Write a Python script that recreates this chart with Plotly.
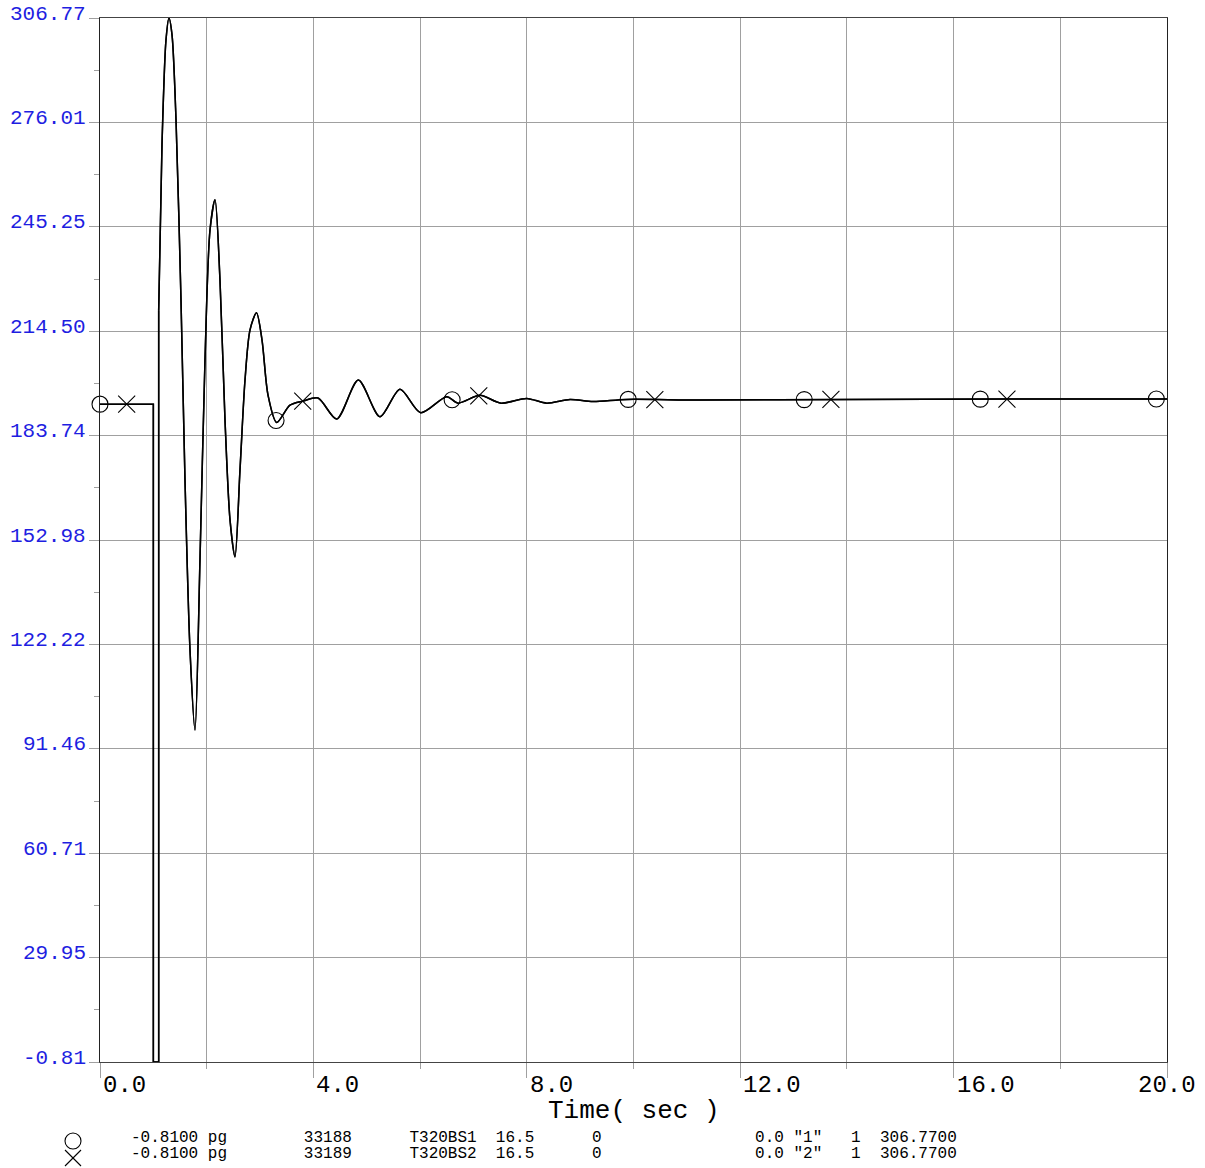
import numpy as np
import plotly.graph_objects as go

# ---------------- data ----------------
time_s = [0.0, 1.0, 1.0, 1.1, 1.1, 1.162, 1.237, 1.293, 1.35, 1.425, 1.518, 1.593,
          1.687, 1.781, 1.874, 1.968, 2.062, 2.156, 2.249, 2.343, 2.437, 2.530,
          2.624, 2.718, 2.812, 2.933, 3.037, 3.149, 3.312, 3.561, 3.805, 4.086,
          4.437, 4.842, 5.248, 5.623, 6.011, 6.499, 6.710, 7.123, 7.516, 7.998,
          8.373, 8.810, 9.241, 9.873, 11.25, 14.0, 17.0, 20.0]
pg_33188 = [193.0, 193.0, -0.81, -0.81, 220.7, 269.4, 300.3, 306.77, 301.8, 276.7,
            223.7, 170.7, 120.6, 97.0, 147.1, 206.0, 244.3, 253.2, 229.6, 188.3,
            158.9, 148.0, 173.6, 200.1, 214.9, 219.9, 211.9, 195.7, 187.6, 192.7,
            193.9, 194.8, 188.6, 200.1, 189.3, 197.4, 190.5, 195.2, 193.3, 195.6,
            193.3, 194.7, 193.3, 194.4, 193.8, 194.4, 194.2, 194.4, 194.5, 194.5]
pg_33189 = list(pg_33188)  # second generator overlays the first

circle_times = [0.0, 3.3, 6.6, 9.9, 13.2, 16.5, 19.8]
cross_times = [0.5, 3.8, 7.1, 10.4, 13.7, 17.0]

y_tick_labels = ["-0.81", "29.95", "60.71", "91.46", "122.22", "152.98",
                 "183.74", "214.50", "245.25", "276.01", "306.77"]
x_tick_labels = ["0.0", "4.0", "8.0", "12.0", "16.0", "20.0"]

legend_rows = [
    ["-0.8100 pg", "33188", "T320BS1", "16.5", "0", '0.0 "1"', "1", "306.7700"],
    ["-0.8100 pg", "33189", "T320BS2", "16.5", "0", '0.0 "2"', "1", "306.7700"],
]
legend_cols = [0, 18, 29, 38, 48, 65, 75, 78]

# ---------------- figure ----------------
W, H = 1205, 1168
ML, MT = 100, 18
PW, PH = 1067, 1044
MR = W - ML - PW
MB = H - MT - PH

def px2paper(x, y):
    return (x - ML) / PW, (H - MB - y) / PH

MONO = "Liberation Mono, Courier New, monospace"
BLUE = "rgb(30,30,225)"
GRID = "#a0a0a0"

y_vals = [float(s) for s in y_tick_labels]
x_vals = [float(s) for s in x_tick_labels]
ymin, ymax = y_vals[0], y_vals[-1]

fig = go.Figure()

split = 5  # end of the piecewise fault section
for series in (pg_33188, pg_33189):
    fig.add_trace(go.Scatter(x=time_s[:split], y=series[:split], mode="lines",
                             line=dict(color="black", width=1.5),
                             showlegend=False, hoverinfo="skip"))
    fig.add_trace(go.Scatter(x=time_s[split - 1:], y=series[split - 1:], mode="lines",
                             line=dict(color="black", width=1.5, shape="spline",
                                       smoothing=0.8),
                             showlegend=False, hoverinfo="skip"))

fig.add_trace(go.Scatter(x=circle_times, y=np.interp(circle_times, time_s, pg_33188),
                         mode="markers",
                         marker=dict(symbol="circle-open", size=16, color="black",
                                     line=dict(width=1.1, color="black")),
                         showlegend=False, cliponaxis=False, hoverinfo="skip"))
fig.add_trace(go.Scatter(x=cross_times, y=np.interp(cross_times, time_s, pg_33189),
                         mode="markers",
                         marker=dict(symbol="x-thin-open", size=17, color="black",
                                     line=dict(width=1.1, color="black")),
                         showlegend=False, cliponaxis=False, hoverinfo="skip"))

fig.update_xaxes(range=[0, 20], tickmode="linear", tick0=0, dtick=4,
                 ticks="outside", ticklen=15, tickcolor=GRID, tickwidth=1,
                 showticklabels=False, showgrid=True, gridcolor=GRID, gridwidth=1,
                 minor=dict(tick0=0, dtick=2, ticks="outside", ticklen=6,
                            tickcolor=GRID, showgrid=True, gridcolor=GRID, gridwidth=1),
                 showline=True, linecolor="#444", linewidth=1, mirror=True,
                 zeroline=False, fixedrange=True)
dy = (ymax - ymin) / 10
fig.update_yaxes(range=[ymin, ymax], tickmode="linear", tick0=ymin, dtick=dy,
                 ticks="outside", ticklen=10, tickcolor=GRID, tickwidth=1,
                 showticklabels=False, showgrid=True, gridcolor=GRID, gridwidth=1,
                 minor=dict(tick0=ymin, dtick=dy / 2, ticks="outside", ticklen=5,
                            tickcolor=GRID, showgrid=False),
                 showline=True, linecolor="#222", linewidth=1, mirror=True,
                 zeroline=False, fixedrange=True)

ann = []
for lab, v in zip(y_tick_labels, y_vals):
    ann.append(dict(x=0, xref="paper", y=v, yref="y", text=lab, showarrow=False,
                    xanchor="right", yanchor="middle", xshift=-12, yshift=4,
                    font=dict(family=MONO, size=21, color=BLUE)))
for i, (lab, v) in enumerate(zip(x_tick_labels, x_vals)):
    last = i == len(x_tick_labels) - 1
    ann.append(dict(x=v, xref="x", y=px2paper(0, 1085)[1], yref="paper", text=lab,
                    showarrow=False, xanchor="center" if last else "left",
                    xshift=0 if last else 1, yanchor="middle",
                    font=dict(family=MONO, size=24, color="black")))
ann.append(dict(x=0.5, xref="paper", y=px2paper(0, 1111)[1], yref="paper",
                text="Time( sec )", showarrow=False, xanchor="center", yanchor="middle",
                font=dict(family=MONO, size=26, color="black")))

for row, ypix in zip(legend_rows, (1138, 1154)):
    s = ""
    for col, txt in zip(legend_cols, row):
        s = s + "\u00a0" * max(col - len(s), 0) + txt
    ann.append(dict(x=px2paper(129, 0)[0], xref="paper", y=px2paper(0, ypix)[1],
                    yref="paper", text=s.replace(" ", "\u00a0"), showarrow=False,
                    xanchor="left", yanchor="middle",
                    font=dict(family=MONO, size=16, color="black")))

shapes = []
cx0, cy0 = px2paper(65, 1133)
cx1, cy1 = px2paper(81, 1149)
shapes.append(dict(type="circle", xref="paper", yref="paper", x0=cx0, x1=cx1,
                   y0=cy1, y1=cy0, line=dict(color="black", width=1.1)))
a0 = px2paper(65, 1150)
a1 = px2paper(81, 1166)
b0 = px2paper(65, 1166)
b1 = px2paper(81, 1150)
for p, q in ((a0, a1), (b0, b1)):
    shapes.append(dict(type="line", xref="paper", yref="paper", x0=p[0], y0=p[1],
                       x1=q[0], y1=q[1], line=dict(color="black", width=1.1)))

fig.update_layout(width=W, height=H, margin=dict(l=ML, r=MR, t=MT, b=MB),
                  paper_bgcolor="white", plot_bgcolor="white",
                  annotations=ann, shapes=shapes, showlegend=False)

fig.write_html("out.html",
               config={"displayModeBar": False, "staticPlot": True},
               post_script="document.body.style.margin='0px';"
                           "document.body.style.overflow='hidden';")
